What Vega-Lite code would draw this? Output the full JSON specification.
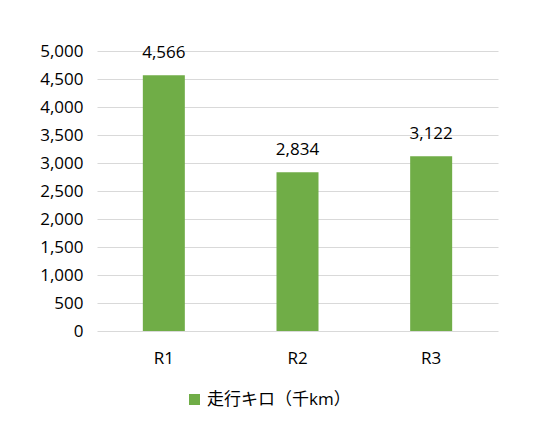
{
  "$schema": "https://vega.github.io/schema/vega-lite/v6.json",
  "width": 401,
  "height": 280,
  "autosize": {"type": "none"},
  "padding": {"left": 97, "top": 51, "right": 57, "bottom": 90},
  "background": "white",
  "config": {
    "font": "Open Sans, Noto Sans CJK JP",
    "view": {"stroke": null}
  },
  "data": {
    "values": [
      {"route": "R1", "km": 4566, "series": "走行キロ（千km）"},
      {"route": "R2", "km": 2834, "series": "走行キロ（千km）"},
      {"route": "R3", "km": 3122, "series": "走行キロ（千km）"}
    ]
  },
  "encoding": {
    "x": {
      "field": "route",
      "type": "nominal",
      "scale": {"paddingInner": 0, "paddingOuter": 0},
      "axis": {
        "title": null,
        "labelAngle": 0,
        "labelFontSize": 17,
        "labelColor": "#000000",
        "labelPadding": 19,
        "ticks": false,
        "domain": false,
        "grid": false
      }
    },
    "y": {
      "field": "km",
      "type": "quantitative",
      "scale": {"domain": [0, 5000], "nice": false},
      "axis": {
        "title": null,
        "values": [0, 500, 1000, 1500, 2000, 2500, 3000, 3500, 4000, 4500, 5000],
        "format": ",.0f",
        "labelFontSize": 17,
        "labelColor": "#000000",
        "labelPadding": 14,
        "ticks": false,
        "domain": false,
        "grid": true,
        "gridColor": "#d9d9d9",
        "gridWidth": 1
      }
    }
  },
  "layer": [
    {
      "mark": {"type": "bar", "size": 42},
      "encoding": {
        "color": {
          "field": "series",
          "type": "nominal",
          "scale": {"range": ["#70AD47"]},
          "legend": {
            "title": null,
            "orient": "none",
            "legendX": 89,
            "legendY": 340,
            "symbolType": "square",
            "symbolSize": 121,
            "symbolStrokeWidth": 0,
            "labelFontSize": 17,
            "labelColor": "#000000",
            "labelOffset": 4
          }
        }
      }
    },
    {
      "mark": {"type": "text", "baseline": "alphabetic", "dy": -17, "fontSize": 17, "color": "#000000"},
      "encoding": {
        "text": {"field": "km", "type": "quantitative", "format": ",.0f"}
      }
    }
  ]
}
